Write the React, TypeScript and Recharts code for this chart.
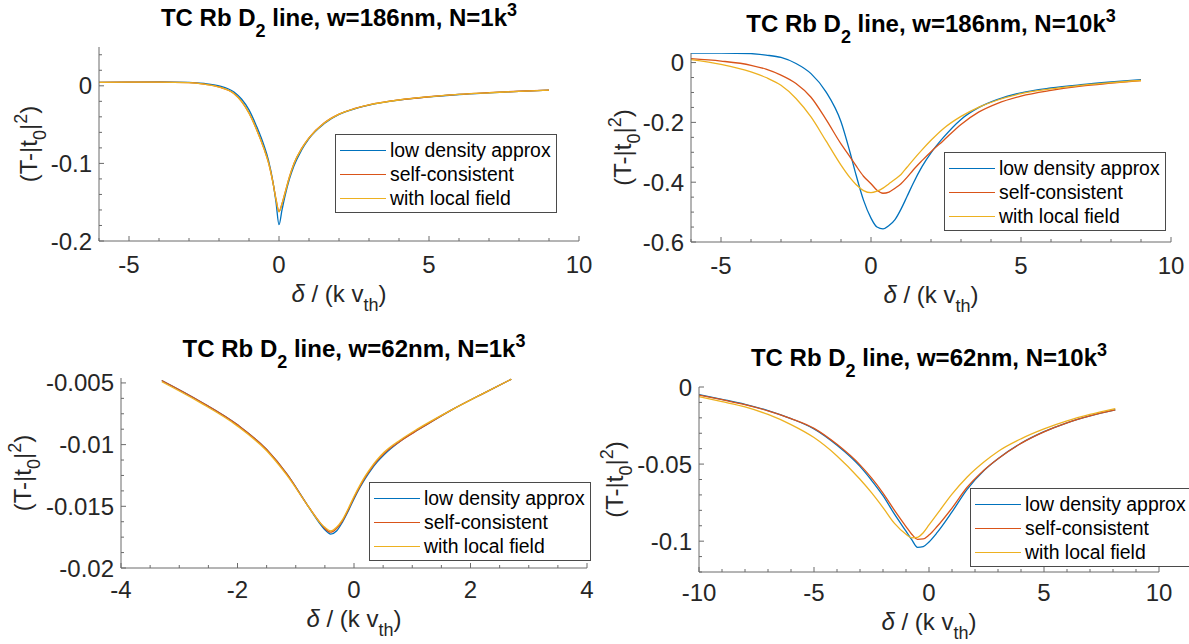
import React from 'react';
import { LineChart, Line, XAxis, YAxis, Legend } from 'recharts';

const SERIES_NAMES = ['low density approx', 'self-consistent', 'with local field'];
const SERIES_KEYS = ['low', 'self', 'local'];
const SERIES_COLORS = ['#0072BD', '#D95319', '#EDB120'];

// ---- Panel 1: w=186nm, N=1k^3
const p1X = [-6, -5, -4, -3, -2.5, -2, -1.5, -1.25, -1, -0.75, -0.5, -0.35, -0.2, -0.1, 0, 0.1, 0.2, 0.35, 0.5, 0.75, 1, 1.5, 2, 2.5, 3, 4, 5, 6, 7, 8, 9];
const p1Low = [0.0045, 0.0048, 0.005, 0.0045, 0.003, 0.0, -0.008, -0.017, -0.031, -0.052, -0.077, -0.096, -0.124, -0.15, -0.179, -0.16, -0.142, -0.12, -0.103, -0.083, -0.068, -0.049, -0.037, -0.03, -0.025, -0.0185, -0.0143, -0.0112, -0.009, -0.0071, -0.0055];
const p1Self = [0.0045, 0.0048, 0.0048, 0.004, 0.0022, -0.0015, -0.01, -0.02, -0.035, -0.056, -0.081, -0.099, -0.125, -0.146, -0.162, -0.152, -0.138, -0.117, -0.1, -0.081, -0.067, -0.048, -0.0365, -0.0295, -0.0245, -0.0182, -0.0141, -0.0111, -0.0089, -0.007, -0.0055];
const p1Local = [0.0045, 0.0048, 0.0048, 0.004, 0.0021, -0.0017, -0.0102, -0.0202, -0.0352, -0.0562, -0.0812, -0.0992, -0.1252, -0.1462, -0.1625, -0.1522, -0.1382, -0.1172, -0.1002, -0.0812, -0.0672, -0.0482, -0.0366, -0.0296, -0.0246, -0.0183, -0.0142, -0.0111, -0.009, -0.0071, -0.0056];
const p1XTicks = [-6, -5, -4, -3, -2, -1, 0, 1, 2, 3, 4, 5, 6, 7, 8, 9, 10];
const p1XMajor = [-5, 0, 5, 10];
const p1YTicks = [-0.2, -0.18, -0.16, -0.14, -0.12, -0.1, -0.08, -0.06, -0.04, -0.02, 0, 0.02, 0.04];
const p1YMajor = [-0.2, -0.1, 0];

// ---- Panel 2: w=186nm, N=10k^3
const p2X = [-6, -5, -4, -3.5, -3, -2.5, -2, -1.5, -1, -0.7, -0.5, -0.25, 0, 0.2, 0.4, 0.6, 0.8, 1, 1.2, 1.4, 1.7, 2, 2.4, 3, 3.6, 4.2, 5, 6, 7, 8, 9];
const p2Low = [0.032, 0.032, 0.03, 0.025, 0.017, -0.003, -0.037, -0.098, -0.198, -0.3, -0.375, -0.46, -0.52, -0.55, -0.556, -0.545, -0.525, -0.49, -0.448, -0.405, -0.348, -0.302, -0.252, -0.19, -0.15, -0.124, -0.101, -0.085, -0.074, -0.065, -0.057];
const p2Self = [0.013, 0.005, -0.009, -0.022, -0.042, -0.07, -0.116, -0.19, -0.272, -0.315, -0.345, -0.38, -0.405, -0.427, -0.437, -0.433, -0.42, -0.405, -0.384, -0.36, -0.328, -0.298, -0.262, -0.207, -0.165, -0.137, -0.112, -0.093, -0.079, -0.069, -0.06];
const p2Local = [0.01, -0.006, -0.031, -0.05, -0.076, -0.12, -0.182, -0.262, -0.343, -0.385, -0.408, -0.428, -0.435, -0.43, -0.42, -0.405, -0.39, -0.374, -0.35, -0.326, -0.292, -0.26, -0.222, -0.18, -0.149, -0.126, -0.104, -0.088, -0.076, -0.067, -0.06];
const p2XTicks = [-6, -5, -4, -3, -2, -1, 0, 1, 2, 3, 4, 5, 6, 7, 8, 9, 10];
const p2XMajor = [-5, 0, 5, 10];
const p2YTicks = [-0.6, -0.55, -0.5, -0.45, -0.4, -0.35, -0.3, -0.25, -0.2, -0.15, -0.1, -0.05, 0];
const p2YMajor = [-0.6, -0.4, -0.2, 0];

// ---- Panel 3: w=62nm, N=1k^3
const p3X = [-3.3, -2.64, -2, -1.5, -1.15, -0.8, -0.57, -0.5, -0.4, -0.3, -0.2, -0.1, 0, 0.1, 0.2, 0.3, 0.4, 0.52, 0.8, 1.1, 1.67, 2.24, 2.7];
const p3Low = [-0.0048, -0.0065, -0.0084, -0.0104, -0.0124, -0.0149, -0.0165, -0.0169, -0.01725, -0.017, -0.0163, -0.0154, -0.0144, -0.0135, -0.0127, -0.012, -0.0114, -0.0108, -0.0097, -0.0088, -0.0072, -0.0058, -0.0047];
const p3Self = [-0.0048, -0.0065, -0.0084, -0.0104, -0.0124, -0.0149, -0.0164, -0.0168, -0.0171, -0.0168, -0.0162, -0.0153, -0.0143, -0.0134, -0.0126, -0.0119, -0.0113, -0.0107, -0.0097, -0.0088, -0.0072, -0.0058, -0.0047];
const p3Local = [-0.0049, -0.0066, -0.0085, -0.0105, -0.0125, -0.0149, -0.0164, -0.0167, -0.017, -0.0167, -0.0161, -0.0152, -0.0142, -0.0133, -0.0125, -0.0118, -0.0112, -0.0106, -0.0096, -0.0087, -0.0072, -0.0058, -0.0047];
const p3XTicks = [-4, -3.5, -3, -2.5, -2, -1.5, -1, -0.5, 0, 0.5, 1, 1.5, 2, 2.5, 3, 3.5, 4];
const p3XMajor = [-4, -2, 0, 2, 4];
const p3YTicks = [-0.02, -0.01875, -0.0175, -0.01625, -0.015, -0.01375, -0.0125, -0.01125, -0.01, -0.00875, -0.0075, -0.00625, -0.005];
const p3YMajor = [-0.02, -0.015, -0.01, -0.005];

// ---- Panel 4: w=62nm, N=10k^3
const p4X = [-10, -9, -8, -7, -6, -5, -4, -3, -2.5, -2, -1.5, -1, -0.75, -0.5, -0.25, 0, 0.35, 1, 1.65, 2.4, 3, 4, 5, 6, 7, 8.1];
const p4Low = [-0.005, -0.008, -0.0112, -0.0153, -0.0205, -0.0272, -0.0378, -0.0515, -0.0605, -0.0705, -0.0825, -0.0935, -0.099, -0.104, -0.1035, -0.1005, -0.0945, -0.081, -0.0665, -0.054, -0.0465, -0.0365, -0.029, -0.0232, -0.0187, -0.0148];
const p4Self = [-0.0052, -0.0082, -0.0114, -0.0155, -0.0205, -0.0268, -0.0372, -0.0505, -0.059, -0.0688, -0.08, -0.0905, -0.0955, -0.0988, -0.0985, -0.096, -0.0905, -0.0785, -0.0652, -0.0538, -0.0465, -0.0366, -0.0291, -0.0233, -0.0188, -0.0149];
const p4Local = [-0.0063, -0.0095, -0.0129, -0.0178, -0.0244, -0.0328, -0.0447, -0.0598, -0.0685, -0.0782, -0.0885, -0.0955, -0.0978, -0.0975, -0.0945, -0.0895, -0.0825, -0.0695, -0.0585, -0.0485, -0.0418, -0.0336, -0.0272, -0.022, -0.0178, -0.014];
const p4XTicks = [-10, -9, -8, -7, -6, -5, -4, -3, -2, -1, 0, 1, 2, 3, 4, 5, 6, 7, 8, 9, 10];
const p4XMajor = [-10, -5, 0, 5, 10];
const p4YTicks = [-0.12, -0.11, -0.1, -0.09, -0.08, -0.07, -0.06, -0.05, -0.04, -0.03, -0.02, -0.01, 0];
const p4YMajor = [-0.1, -0.05, 0];

const FONT = '"Liberation Sans", Arial, Helvetica, sans-serif';
const AXIS_COLOR = '#6a6a6a';
const TEXT_COLOR = '#262626';
const TICK_FS = 24;
const LABEL_FS = 24;
const SUB_FS = 18;
const TITLE_FS = 24;
const LEGEND_FS = 19.4;

const PAD_L = 120;
const PAD_T = 60;
const PAD_R = 50;
const PAD_B = 80;

type PanelCfg = {
  L: number; T: number; R: number; B: number;
  w: string; n: string;
  x: number[]; low: number[]; self: number[]; local: number[];
  xDomain: [number, number]; yDomain: [number, number];
  xTicks: number[]; xMajor: number[]; yTicks: number[]; yMajor: number[];
  ylabX: number; xlabY: number; xtickY: number; legL: number; legT: number;
};

const PANELS: PanelCfg[] = [
  { L: 99, T: 47, R: 579, B: 241, w: '186nm', n: '1k', x: p1X, low: p1Low, self: p1Self, local: p1Local,
    xDomain: [-6, 10], yDomain: [-0.2, 0.05], xTicks: p1XTicks, xMajor: p1XMajor, yTicks: p1YTicks, yMajor: p1YMajor,
    ylabX: -62, xlabY: 61, xtickY: 32, legL: 335, legT: 134 },
  { L: 691, T: 53, R: 1171, B: 242, w: '186nm', n: '10k', x: p2X, low: p2Low, self: p2Self, local: p2Local,
    xDomain: [-6, 10], yDomain: [-0.6, 0.032], xTicks: p2XTicks, xMajor: p2XMajor, yTicks: p2YTicks, yMajor: p2YMajor,
    ylabX: -60, xlabY: 61, xtickY: 32, legL: 944, legT: 152 },
  { L: 121, T: 378, R: 587, B: 568, w: '62nm', n: '1k', x: p3X, low: p3Low, self: p3Self, local: p3Local,
    xDomain: [-4, 4], yDomain: [-0.02, -0.0046], xTicks: p3XTicks, xMajor: p3XMajor, yTicks: p3YTicks, yMajor: p3YMajor,
    ylabX: -90, xlabY: 59, xtickY: 30, legL: 369, legT: 482 },
  { L: 699, T: 387, R: 1159, B: 572, w: '62nm', n: '10k', x: p4X, low: p4Low, self: p4Self, local: p4Local,
    xDomain: [-10, 10], yDomain: [-0.12, 0], xTicks: p4XTicks, xMajor: p4XMajor, yTicks: p4YTicks, yMajor: p4YMajor,
    ylabX: -76, xlabY: 58, xtickY: 29, legL: 970, legT: 488 },
];

const isMajor = (majors: number[], v: number) => majors.some((m) => Math.abs(m - v) < 1e-9);

const makeTick = (side: 'bottom' | 'top' | 'left' | 'right', majors: number[], labelOffset = 32) => (props: any) => {
  const { x, y, payload } = props;
  const v = payload.value;
  const major = isMajor(majors, v);
  const len = major ? 5 : 3;
  if (side === 'bottom') {
    return (
      <g>
        <line x1={x} y1={y} x2={x} y2={y - len} stroke={AXIS_COLOR} strokeWidth={1} />
        {major && (
          <text x={x} y={y + labelOffset} textAnchor="middle" fontFamily={FONT} fontSize={TICK_FS} fill={TEXT_COLOR}>{String(v)}</text>
        )}
      </g>
    );
  }
  if (side === 'top') {
    return <line x1={x} y1={y} x2={x} y2={y + len} stroke={AXIS_COLOR} strokeWidth={1} />;
  }
  if (side === 'left') {
    return (
      <g>
        <line x1={x} y1={y} x2={x + len} y2={y} stroke={AXIS_COLOR} strokeWidth={1} />
        {major && (
          <text x={x - 7} y={y + 8.5} textAnchor="end" fontFamily={FONT} fontSize={TICK_FS} fill={TEXT_COLOR}>{String(v)}</text>
        )}
      </g>
    );
  }
  return <line x1={x} y1={y} x2={x - len} y2={y} stroke={AXIS_COLOR} strokeWidth={1} />;
};

const BottomTexts = ({ pcx, xly, ty, w, n }: any) => (
  <g>
    <text x={pcx} y={ty} textAnchor="middle" fontFamily={FONT} fontSize={TITLE_FS} fontWeight="bold" fill="#000">
      TC Rb D
      <tspan fontSize={SUB_FS} dy={11}>2</tspan>
      <tspan dy={-11}>{` line, w=${w}, N=${n}`}</tspan>
      <tspan fontSize={SUB_FS} dy={-10}>3</tspan>
    </text>
    <text x={pcx} y={xly} textAnchor="middle" fontFamily={FONT} fontSize={LABEL_FS} fill={TEXT_COLOR}>
      <tspan fontStyle="italic">δ</tspan>
      <tspan>{' / (k v'}</tspan>
      <tspan fontSize={SUB_FS} dy={9}>th</tspan>
      <tspan dy={-9}>)</tspan>
    </text>
  </g>
);

const YLabelText = ({ px, pcy }: any) => (
  <text x={px} y={pcy} textAnchor="middle" transform={`rotate(-90, ${px}, ${pcy})`} fontFamily={FONT} fontSize={LABEL_FS} fill={TEXT_COLOR}>
    {'(T-|t'}
    <tspan fontSize={SUB_FS} dy={9}>0</tspan>
    <tspan dy={-9}>|</tspan>
    <tspan fontSize={SUB_FS} dy={-10}>2</tspan>
    <tspan dy={10}>)</tspan>
  </text>
);

const LegendBox = () => (
  <div
    style={{
      width: 222,
      height: 79,
      boxSizing: 'border-box',
      border: '1px solid #4a4a4a',
      background: '#fff',
      padding: '3px 0',
      fontFamily: FONT,
      fontSize: LEGEND_FS,
      color: '#000',
    }}
  >
    {SERIES_NAMES.map((name, i) => (
      <div key={name} style={{ display: 'flex', alignItems: 'center', height: 24 }}>
        <span style={{ display: 'inline-block', marginLeft: 4, width: 46, height: 0, borderTop: `1.3px solid ${SERIES_COLORS[i]}` }} />
        <span style={{ marginLeft: 4, whiteSpace: 'nowrap', lineHeight: '24px' }}>{name}</span>
      </div>
    ))}
  </div>
);

function Panel({ cfg }: { cfg: PanelCfg }) {
  const pw = cfg.R - cfg.L;
  const ph = cfg.B - cfg.T;
  const width = pw + PAD_L + PAD_R;
  const height = ph + PAD_T + PAD_B;
  const chartLeft = cfg.L - PAD_L;
  const chartTop = cfg.T - PAD_T;
  const data = cfg.x.map((x, i) => ({ x, low: cfg.low[i], self: cfg.self[i], local: cfg.local[i] }));
  const pcx = PAD_L + pw / 2;
  return (
    <div style={{ position: 'absolute', left: chartLeft, top: chartTop, width, height }}>
      <LineChart width={width} height={height} data={data} margin={{ top: PAD_T, right: PAD_R, bottom: 0, left: 0 }}>
        <XAxis
          xAxisId="b"
          type="number"
          dataKey="x"
          domain={cfg.xDomain}
          allowDataOverflow
          ticks={cfg.xTicks}
          interval={0}
          height={PAD_B}
          tickSize={0}
          tickMargin={0}
          tickLine={false}
          axisLine={{ stroke: AXIS_COLOR, strokeWidth: 1 }}
          tick={makeTick('bottom', cfg.xMajor, cfg.xtickY)}
          label={<BottomTexts pcx={pcx} xly={PAD_T + ph + cfg.xlabY} ty={PAD_T - 21} w={cfg.w} n={cfg.n} />}
        />
        <XAxis
          xAxisId="t"
          orientation="top"
          type="number"
          dataKey="x"
          domain={cfg.xDomain}
          allowDataOverflow
          ticks={cfg.xTicks}
          interval={0}
          height={0}
          tickSize={0}
          tickMargin={0}
          tickLine={false}
          axisLine={{ stroke: AXIS_COLOR, strokeWidth: 1 }}
          tick={makeTick('top', cfg.xMajor)}
        />
        <YAxis
          yAxisId="l"
          type="number"
          domain={cfg.yDomain}
          allowDataOverflow
          ticks={cfg.yTicks}
          interval={0}
          width={PAD_L}
          tickSize={0}
          tickMargin={0}
          tickLine={false}
          axisLine={{ stroke: AXIS_COLOR, strokeWidth: 1 }}
          tick={makeTick('left', cfg.yMajor)}
          label={<YLabelText px={PAD_L + cfg.ylabX} pcy={PAD_T + ph / 2} />}
        />
        <YAxis
          yAxisId="r"
          orientation="right"
          type="number"
          domain={cfg.yDomain}
          allowDataOverflow
          ticks={cfg.yTicks}
          interval={0}
          width={0}
          tickSize={0}
          tickMargin={0}
          tickLine={false}
          axisLine={{ stroke: AXIS_COLOR, strokeWidth: 1 }}
          tick={makeTick('right', cfg.yMajor)}
        />
        {SERIES_KEYS.map((k, i) => (
          <Line
            key={k}
            xAxisId="b"
            yAxisId="l"
            type="monotone"
            dataKey={k}
            name={SERIES_NAMES[i]}
            stroke={SERIES_COLORS[i]}
            strokeWidth={1.3}
            dot={false}
            activeDot={false}
            isAnimationActive={false}
          />
        ))}
        <Legend
          layout="vertical"
          align="center"
          verticalAlign="middle"
          content={() => <LegendBox />}
          wrapperStyle={{ position: 'absolute', left: cfg.legL - chartLeft, top: cfg.legT - chartTop, width: 222, height: 79, margin: 0 }}
        />
      </LineChart>
    </div>
  );
}

export default function App() {
  return (
    <div style={{ position: 'absolute', left: 0, top: 0, width: 1189, height: 644, overflow: 'hidden', background: '#fff' }}>
      {PANELS.map((cfg, i) => (
        <Panel key={i} cfg={cfg} />
      ))}
    </div>
  );
}
